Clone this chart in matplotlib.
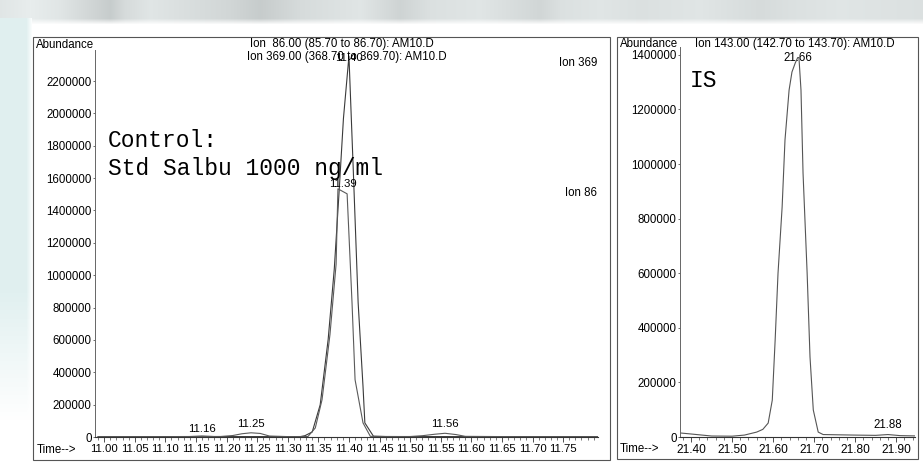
import numpy as np
import matplotlib
matplotlib.use("Agg")
import matplotlib.pyplot as plt
from matplotlib.patches import Rectangle
from matplotlib.ticker import MultipleLocator, FuncFormatter

plt.rcParams['font.family'] = ['Liberation Sans', 'DejaVu Sans']

# --- data ---
# left panel, ion 86 trace (time in min, abundance)
t86 = [10.99, 11.05, 11.10, 11.14, 11.16, 11.18, 11.22, 11.26, 11.30, 11.320, 11.328,
       11.340, 11.353, 11.366, 11.376, 11.384, 11.391, 11.400, 11.407, 11.415, 11.423,
       11.426, 11.440, 11.46, 11.50, 11.60, 11.70, 11.81]
a86 = [2000, 2000, 2500, 3000, 6000, 3000, 2500, 2500, 2000, 2000, 8000,
       31000, 199000, 602000, 1037000, 1522000, 1969000, 2354000, 1658000, 832000, 311000,
       87000, 5000, 3000, 2500, 2500, 2500, 2000]

# left panel, ion 369 trace
t369 = [10.99, 11.05, 11.10, 11.15, 11.19, 11.21, 11.225, 11.24, 11.255, 11.27, 11.30,
        11.333, 11.345, 11.356, 11.369, 11.379, 11.382, 11.397, 11.405, 11.410, 11.423,
        11.435, 11.46, 11.50, 11.52, 11.54, 11.557, 11.575, 11.59, 11.65, 11.81]
a369 = [1500, 1500, 2000, 2500, 3000, 9000, 20000, 26000, 22000, 6000, 2500,
        3000, 56000, 230000, 634000, 1068000, 1534000, 1503000, 832000, 354000, 87000,
        4000, 3000, 3000, 8000, 17000, 23000, 15000, 4000, 2500, 2000]

# right panel, ion 143 (internal standard)
t143 = [21.372, 21.40, 21.45, 21.50, 21.53, 21.56, 21.575, 21.588, 21.598, 21.605, 21.612,
        21.622, 21.629, 21.639, 21.646, 21.654, 21.660, 21.663, 21.668, 21.673, 21.683,
        21.690, 21.698, 21.710, 21.722, 21.76, 21.80, 21.85, 21.88, 21.91, 21.947]
a143 = [15000, 11000, 3600, 3000, 7000, 18000, 28000, 51000, 135000, 355000, 600000,
        842000, 1088000, 1271000, 1337000, 1370000, 1390000, 1390000, 1271000, 967000, 600000,
        293000, 99000, 18000, 9000, 8000, 7000, 6000, 9000, 5000, 4000]

# peak labels: (text, x, y, offset in points)
left_peaks = [("11.16", 11.16, 6000, 2.9), ("11.25", 11.24, 26000, 4.3),
              ("11.39", 11.39, 1534000, 1.4), ("11.40", 11.40, 2354000, -3.6),
              ("11.56", 11.557, 23000, 4.3)]
right_peaks = [("21.66", 21.661, 1390000, -2.8), ("21.88", 21.88, 9000, 5.0)]

W, H = 923, 466
fig = plt.figure(figsize=(W / 100, H / 100), dpi=100)

# blurred page background behind the scan
img = np.ones((H, W, 3))
kx = [0, 30, 60, 110, 125, 150, 230, 260, 300, 360, 400, 430, 480, 540, 560, 600, 640,
      700, 760, 790, 840, 923]
kv = [0.90, 0.93, 0.90, 0.80, 0.86, 0.90, 0.84, 0.80, 0.86, 0.90, 0.83, 0.88, 0.90, 0.84,
      0.88, 0.90, 0.88, 0.90, 0.86, 0.88, 0.90, 0.88]
band = np.interp(np.arange(W), kx, kv)
for r in range(24):
    f = 1.0 if r < 18 else (24 - r) / 6
    v = 1 - (1 - band) * f
    img[r, :, 0] = v - 0.02 * f
    img[r, :, 1] = v
    img[r, :, 2] = v
for c in range(32):
    fx = 1.0 if c < 26 else (32 - c) / 6
    for r in range(18, H):
        fy = 1.0 if r < 290 else max(0.0, (420 - r) / 130)
        f = fx * fy
        img[r, c] = [1 - 0.12 * f, 1 - 0.06 * f, 1 - 0.06 * f]
bg = fig.add_axes([0, 0, 1, 1])
bg.imshow(img, aspect='auto', interpolation='bilinear')
bg.axis('off')
bg.set_zorder(-1)

# panel frames
fig.add_artist(Rectangle((33 / W, 1 - 460 / H), 577 / W, 423 / H, transform=fig.transFigure,
                         fill=False, ec='#555555', lw=0.8))
fig.add_artist(Rectangle((617 / W, 1 - 459 / H), 301 / W, 422 / H, transform=fig.transFigure,
                         fill=False, ec='#555555', lw=0.8))

fmt = FuncFormatter(lambda v, p: "%d" % round(v))


def style(ax):
    for s in ['top', 'right']:
        ax.spines[s].set_visible(False)
    ax.spines['left'].set_color('#666666')
    ax.spines['left'].set_linewidth(0.7)
    ax.spines['bottom'].set_color('#333333')
    ax.spines['bottom'].set_linewidth(0.8)
    ax.tick_params(axis='x', which='major', direction='out', length=3.5, width=0.6,
                   pad=1.5, labelsize=8.2, color='#333333')
    ax.tick_params(axis='x', which='minor', direction='out', length=2.3, width=0.5,
                   color='#444444')
    ax.tick_params(axis='y', direction='out', length=1.5, width=0.6, pad=1,
                   labelsize=8.3, color='#555555')
    ax.yaxis.set_major_formatter(fmt)


# left panel
ax1 = fig.add_axes([95 / W, 1 - 437 / H, 503 / W, 387 / H])
ax1.plot(t86, a86, color='#3a3a3a', lw=0.8)
ax1.plot(t369, a369, color='#5a5a5a', lw=0.8)
ax1.set_xlim(10.985, 11.807)
ax1.set_ylim(0, 2392000)
ax1.set_yticks(np.arange(0, 2200001, 200000))
ax1.set_xticks(np.arange(11.0, 11.751, 0.05))
ax1.xaxis.set_minor_locator(MultipleLocator(0.01))
ax1.xaxis.set_major_formatter(FuncFormatter(lambda v, p: "%.2f" % v))
style(ax1)
for txt, x, y, dy in left_peaks:
    ax1.annotate(txt, xy=(x, y), xytext=(0, dy), textcoords='offset points',
                 ha='center', va='baseline', fontsize=8.2, annotation_clip=False)
ax1.text(0.998, 0.966, "Ion 369", transform=ax1.transAxes, ha='right', va='center',
         fontsize=8.3)
ax1.text(0.998, 0.630, "Ion 86", transform=ax1.transAxes, ha='right', va='center',
         fontsize=8.3)
ax1.text(0.026, 0.767, "Control:", transform=ax1.transAxes, ha='left', va='center',
         family='Liberation Mono', fontsize=16.5)
ax1.text(0.026, 0.695, "Std Salbu 1000 ng/ml", transform=ax1.transAxes, ha='left',
         va='center', family='Liberation Mono', fontsize=16.5)

# right panel
ax2 = fig.add_axes([680 / W, 1 - 437 / H, 235 / W, 390 / H])
ax2.plot(t143, a143, color='#555555', lw=0.8)
ax2.set_xlim(21.373, 21.946)
ax2.set_ylim(0, 1428600)
ax2.set_yticks(np.arange(0, 1400001, 200000))
ax2.set_xticks(np.arange(21.4, 21.901, 0.1))
ax2.xaxis.set_minor_locator(MultipleLocator(0.02))
ax2.xaxis.set_major_formatter(FuncFormatter(lambda v, p: "%.2f" % v))
style(ax2)
ax2.tick_params(axis='x', which='major', labelsize=8.6)
for txt, x, y, dy in right_peaks:
    ax2.annotate(txt, xy=(x, y), xytext=(0, dy), textcoords='offset points',
                 ha='center', va='baseline', fontsize=8.3, annotation_clip=False)
ax2.text(0.043, 0.915, "IS", transform=ax2.transAxes, ha='left', va='center',
         family='Liberation Mono', fontsize=16.5)

# header and axis captions
fig.text(36 / W, 1 - 45 / H, "Abundance", ha='left', va='center', fontsize=8.3)
fig.text(342 / W, 1 - 44 / H, "Ion  86.00 (85.70 to 86.70): AM10.D", ha='center',
         va='center', fontsize=8.3)
fig.text(347 / W, 1 - 57 / H, "Ion 369.00 (368.70 to 369.70): AM10.D", ha='center',
         va='center', fontsize=8.3)
fig.text(37 / W, 1 - 450 / H, "Time-->", ha='left', va='center', fontsize=8.3)
fig.text(620 / W, 1 - 44 / H, "Abundance", ha='left', va='center', fontsize=8.3)
fig.text(795 / W, 1 - 44 / H, "Ion 143.00 (142.70 to 143.70): AM10.D", ha='center',
         va='center', fontsize=8.3)
fig.text(620 / W, 1 - 449 / H, "Time-->", ha='left', va='center', fontsize=8.3)

fig.savefig("out.png", dpi=100)
